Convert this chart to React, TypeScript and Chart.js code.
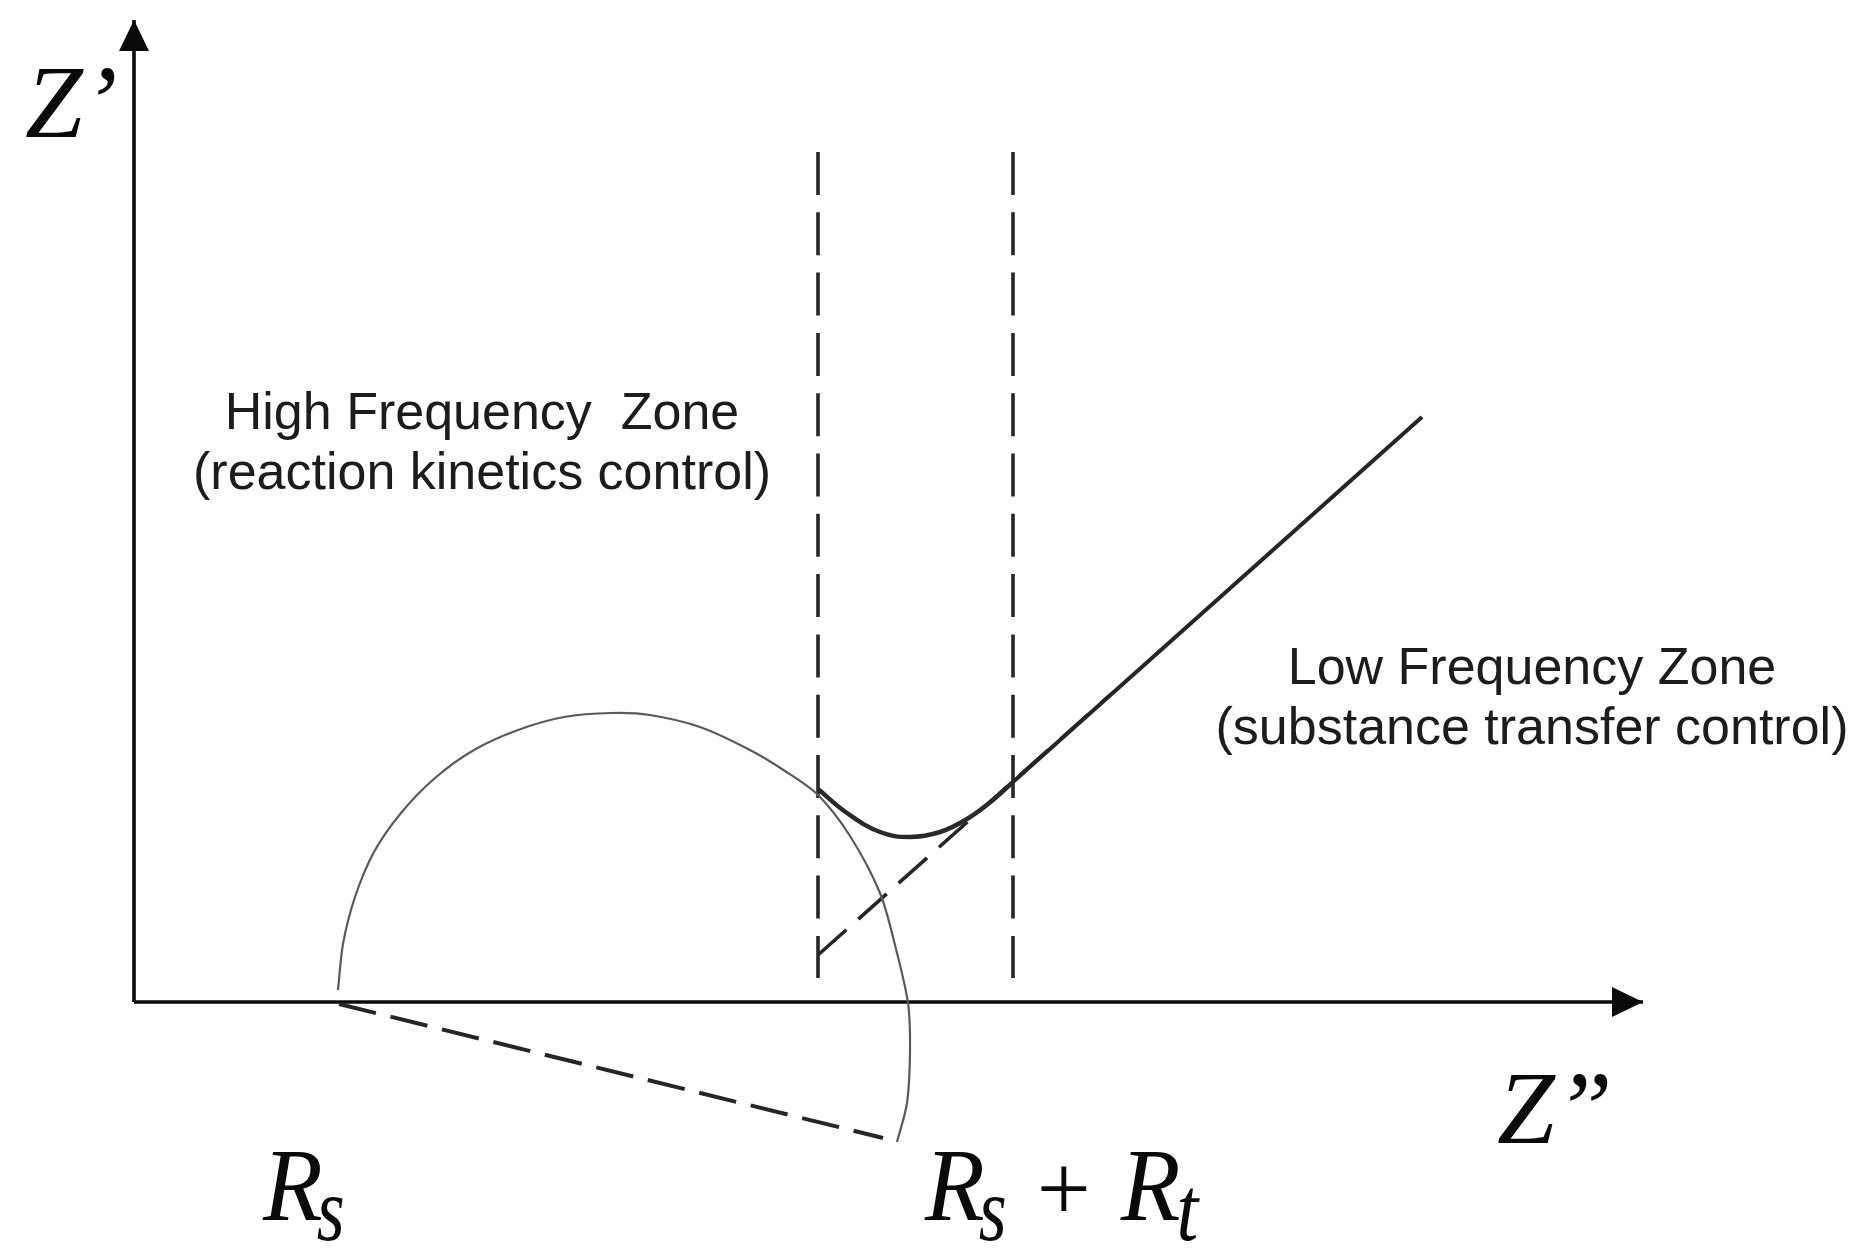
import React, { useEffect, useRef } from "react";
import { Chart, registerables } from "chart.js";

Chart.register(...registerables);

// ---- Schematic Nyquist plot data (arbitrary impedance units) ----
// Axes (origin at Z'' = 0, Z' = 0)
const xAxisX = [0, 150.9];
const xAxisY = [0, 0];
const yAxisX = [0, 0];
const yAxisY = [0, 98.2];

// Thin semicircle-like arc (charge-transfer loop)
const arcX = [20.4, 20.9, 22.1, 24.0, 26.7, 30.1, 34.0, 38.4, 43.0, 47.8, 51.6, 56.6, 61.6, 65.1, 68.4, 71.6, 74.6, 76.1, 77.4, 77.6, 77.3, 76.3];
const arcY = [1.2, 5.8, 10.5, 15.0, 18.9, 22.4, 25.2, 27.2, 28.5, 28.9, 28.7, 27.5, 25.2, 23.1, 20.7, 16.6, 10.9, 5.7, -0.1, -4.8, -10.1, -14.0];

// Thick transition curve between the two zones
const curveX = [68.4, 71.3, 74.6, 77.6, 80.6, 83.3, 85.9, 87.9];
const curveY = [21.3, 18.9, 17.0, 16.5, 17.0, 18.3, 20.2, 22.0];

// Warburg (diffusion) straight line
const warburgX = [87.9, 128.8];
const warburgY = [22.0, 58.5];

// Dashed extrapolation of the Warburg line
const extrapX = [68.4, 97.6];
const extrapY = [4.7, 30.7];

// Dashed zone boundaries
const boundaryLeftX = [68.4, 68.4];
const boundaryRightX = [87.9, 87.9];
const boundaryY = [85.0, 2.4];

// Dashed depressed-semicircle radius from Rs
const radiusX = [20.5, 74.9];
const radiusY = [-0.2, -13.6];

// Text labels
const zoneTitles = ["High Frequency  Zone", "Low Frequency Zone"];
const zoneSubtitles = ["(reaction kinetics control)", "(substance transfer control)"];
const zoneAnchorX = [34.8, 139.8];
const zoneTitleY = [57.3, 31.8];
const zoneSubtitleY = [51.3, 25.8];

const pts = (xs: number[], ys: number[]) => xs.map((x, i) => ({ x, y: ys[i] }));

const MATH_FONT = 'italic 104px "Liberation Serif", "Times New Roman", serif';
const SUB_FONT = 'italic 92px "Liberation Serif", "Times New Roman", serif';
const PLUS_FONT = '96px "Liberation Serif", "Times New Roman", serif';
const SANS_FONT = '52px "Liberation Sans", Arial, sans-serif';

type Run = { text: string; font: string; dy?: number; after?: number; sx?: number };
const mathLabels: { x: number; y: number; runs: Run[] }[] = [
  { x: -10.9, y: 86.5, runs: [{ text: "Z\u2019", font: MATH_FONT }] },
  { x: 136.3, y: -14.1, runs: [{ text: "Z\u201D", font: MATH_FONT }] },
  {
    x: 12.9,
    y: -21.8,
    runs: [
      { text: "R", font: MATH_FONT, after: -6, sx: 0.94 },
      { text: "s", font: SUB_FONT, dy: 20, sx: 0.78 },
    ],
  },
  {
    x: 79.1,
    y: -21.8,
    runs: [
      { text: "R", font: MATH_FONT, after: -6, sx: 0.94 },
      { text: "s", font: SUB_FONT, dy: 20, after: 30, sx: 0.78 },
      { text: "+", font: PLUS_FONT, after: 30 },
      { text: "R", font: MATH_FONT, after: -4, sx: 0.94 },
      { text: "t", font: SUB_FONT, dy: 20, sx: 0.85 },
    ],
  },
];

const textPlugin = {
  id: "schematicText",
  afterDatasetsDraw(chart: any) {
    const { ctx, scales } = chart;
    const xs = scales.x;
    const ys = scales.y;
    ctx.save();
    ctx.textBaseline = "alphabetic";
    ctx.fillStyle = "#1c1c1c";
    ctx.font = SANS_FONT;
    ctx.textAlign = "center";
    zoneTitles.forEach((t, i) => {
      const px = xs.getPixelForValue(zoneAnchorX[i]);
      ctx.fillText(t, px, ys.getPixelForValue(zoneTitleY[i]));
      ctx.fillText(zoneSubtitles[i], px, ys.getPixelForValue(zoneSubtitleY[i]));
    });
    ctx.fillStyle = "#0a0a0a";
    ctx.textAlign = "left";
    for (const m of mathLabels) {
      let px = xs.getPixelForValue(m.x);
      const py = ys.getPixelForValue(m.y);
      for (const r of m.runs) {
        const sx = r.sx || 1;
        ctx.font = r.font;
        ctx.save();
        ctx.translate(px, py + (r.dy || 0));
        ctx.scale(sx, 1);
        ctx.fillText(r.text, 0, 0);
        ctx.restore();
        px += ctx.measureText(r.text).width * sx + (r.after || 0);
      }
    }
    ctx.restore();
  },
};

const arrowPlugin = {
  id: "axisArrows",
  afterDatasetsDraw(chart: any) {
    const { ctx } = chart;
    chart.data.datasets.forEach((ds: any, i: number) => {
      if (!ds.arrow) return;
      const meta = chart.getDatasetMeta(i);
      const n = meta.data.length;
      if (n < 2) return;
      const a = meta.data[n - 2];
      const b = meta.data[n - 1];
      const ang = Math.atan2(b.y - a.y, b.x - a.x);
      const len = 31;
      const hw = 15;
      ctx.save();
      ctx.translate(b.x, b.y);
      ctx.rotate(ang);
      ctx.beginPath();
      ctx.moveTo(0, 0);
      ctx.lineTo(-len, -hw);
      ctx.lineTo(-len, hw);
      ctx.closePath();
      ctx.fillStyle = "#0a0a0a";
      ctx.fill();
      ctx.restore();
    });
  },
};

export default function App() {
  const ref = useRef<HTMLCanvasElement | null>(null);

  useEffect(() => {
    document.body.style.margin = "0";
    const canvas = ref.current;
    if (!canvas) return;
    const line = (
      data: { x: number; y: number }[],
      color: string,
      width: number,
      extra: any = {}
    ) => ({
      data,
      showLine: true,
      borderColor: color,
      backgroundColor: color,
      borderWidth: width,
      pointRadius: 0,
      pointHoverRadius: 0,
      fill: false,
      tension: 0,
      borderCapStyle: "butt",
      clip: false,
      ...extra,
    });

    const chart = new Chart(canvas, {
      type: "scatter",
      data: {
        datasets: [
          line(pts(curveX, curveY), "#2a2a2a", 4.5, { tension: 0.4 }),
          line(pts(warburgX, warburgY), "#262626", 4),
          line(pts(arcX, arcY), "#5a5a5a", 2.2, { tension: 0.3 }),
          line(pts(extrapX, extrapY), "#262626", 3.6, { borderDash: [38, 16] }),
          line(pts(boundaryLeftX, boundaryY), "#262626", 3.6, { borderDash: [43, 17.3] }),
          line(pts(boundaryRightX, boundaryY), "#262626", 3.6, { borderDash: [43, 17.3] }),
          line(pts(radiusX, radiusY), "#262626", 4, { borderDash: [38, 15] }),
          line(pts(xAxisX, xAxisY), "#0a0a0a", 3.6, { arrow: true }),
          line(pts(yAxisX, yAxisY), "#0a0a0a", 3.6, { arrow: true }),
        ] as any,
      },
      options: {
        animation: false,
        responsive: false,
        maintainAspectRatio: false,
        events: [],
        layout: { padding: 0 },
        plugins: {
          legend: { display: false },
          tooltip: { enabled: false },
          title: { display: false },
        },
        scales: {
          x: { type: "linear", min: -13.4, max: 172.9, display: false },
          y: { type: "linear", min: -25.8, max: 100.2, display: false },
        },
      } as any,
      plugins: [arrowPlugin, textPlugin],
    });
    return () => chart.destroy();
  }, []);

  return (
    <div style={{ width: 1863, height: 1260, background: "#ffffff" }}>
      <canvas ref={ref} width={1863} height={1260} style={{ display: "block" }} />
    </div>
  );
}
